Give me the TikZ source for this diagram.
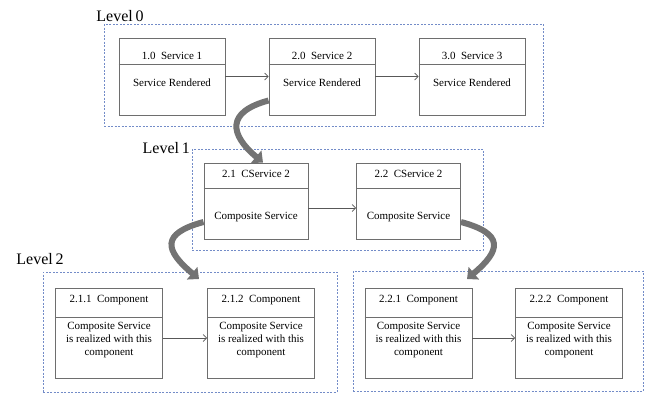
\documentclass[tikz,border=0pt]{standalone}
\usepackage{fontspec}
\setmainfont{Liberation Serif}
\usetikzlibrary{arrows.meta}

\definecolor{garisKotak}{RGB}{110,110,110}
\definecolor{garisLevel}{RGB}{115,140,200}
\definecolor{panahTebal}{RGB}{115,115,115}

\tikzset{
  svc/.style={draw=garisKotak, line width=0.9pt, inner sep=0pt},
  lvlbox/.style={draw=garisLevel, line width=0.7pt, dash pattern=on 2pt off 1.5pt, inner sep=0pt},
  lvltext/.style={font=\fontsize{16}{18}\selectfont, inner sep=0pt},
  txt/.style={font=\fontsize{11}{13}\selectfont, inner sep=0pt, align=center},
  link/.style={draw=garisKotak!80!black, line width=0.7pt, -{Straight Barb[length=3.5pt,width=7pt]}},
  turun/.style={draw=panahTebal, line width=6pt, looseness=1.8, -{Triangle[length=9pt,width=16pt]}},
  lv0/.style={minimum width=106pt, minimum height=77pt},
  lv1/.style={minimum width=104pt, minimum height=76pt},
  lv2/.style={minimum width=107pt, minimum height=90pt},
}

% kotak layanan: nama, posisi, ukuran, judul, isi
\newcommand{\svcbox}[5]{%
  \node[svc,#3] (#1) at #2 {};
  \draw[svc] ([yshift=-\divy]#1.north west) -- ([yshift=-\divy]#1.north east);
  \node[txt] (#1-t) at ([yshift=-\ttly]#1.north) {#4};
  \node[txt] (#1-b) at ([yshift=-\bdyy]#1.north) {#5};
}

\begin{document}
\begin{tikzpicture}[x=1pt, y=-1pt]
  \useasboundingbox (0,0) rectangle (645,394);

  % Kotak level
  \node[lvlbox, minimum width=439pt, minimum height=102pt] (lvl0) at (323.5,75) {};
  \node[lvlbox, minimum width=291pt, minimum height=101pt] (lvl1) at (337.5,199.5) {};
  \node[lvlbox, minimum width=294pt, minimum height=120pt] (lvl2a) at (190,332) {};
  \node[lvlbox, minimum width=290pt, minimum height=120pt] (lvl2b) at (498,331) {};

  \node[lvltext] (t0) at (120,16) {Level\,0};
  \node[lvltext, anchor=east] (t1) at (190,148) {Level\,1};
  \node[lvltext] (t2) at (40,259) {Level\,2};

  % Level 0
  \def\divy{27pt}
  \def\ttly{18pt}
  \def\bdyy{45pt}
  \svcbox{s1}{(172,76.5)}{lv0}{1.0~~Service 1}{Service Rendered}
  \svcbox{s2}{(322,76.5)}{lv0}{2.0~~Service 2}{Service Rendered}
  \svcbox{s3}{(472,76.5)}{lv0}{3.0~~Service 3}{Service Rendered}

  % Level 1
  \def\divy{26pt}
  \def\ttly{11.5pt}
  \def\bdyy{54pt}
  \svcbox{c1}{(256,201)}{lv1}{2.1~~CService 2}{Composite Service}
  \svcbox{c2}{(408.5,201)}{lv1}{2.2~~CService 2}{Composite Service}

  % Level 2
  \def\divy{30pt}
  \def\ttly{12pt}
  \def\bdyy{52pt}
  \svcbox{k1}{(109,333)}{lv2}{2.1.1~~Component}{Composite Service\\is realized with this\\component}
  \svcbox{k2}{(261,333)}{lv2}{2.1.2~~Component}{Composite Service\\is realized with this\\component}
  \svcbox{k3}{(418.5,333)}{lv2}{2.2.1~~Component}{Composite Service\\is realized with this\\component}
  \svcbox{k4}{(569,333)}{lv2}{2.2.2~~Component}{Composite Service\\is realized with this\\component}

  % Panah antar kotak
  \draw[link] (s1) -- (s2);
  \draw[link] (s2) -- (s3);
  \draw[link] ([yshift=-7pt]c1.east) -- ([yshift=-7pt]c2.west);
  \draw[link] ([yshift=-5pt]k1.east) -- ([yshift=-5pt]k2.west);
  \draw[link] ([yshift=-5pt]k3.east) -- ([yshift=-5pt]k4.west);

  % Panah lengkung ke level bawah
  \coordinate (ujungA) at (199,279);
  \coordinate (ujungB) at (467,279);
  \draw[turun] ([yshift=-24pt]s2.west) to[out=195, in=140] ([xshift=7pt]c1.north);
  \draw[turun] ([yshift=-21pt]c1.west) to[out=195, in=140, looseness=2] (ujungA);
  \draw[turun] ([yshift=-21pt]c2.east) to[out=-15, in=40, looseness=2] (ujungB);
\end{tikzpicture}
\end{document}
